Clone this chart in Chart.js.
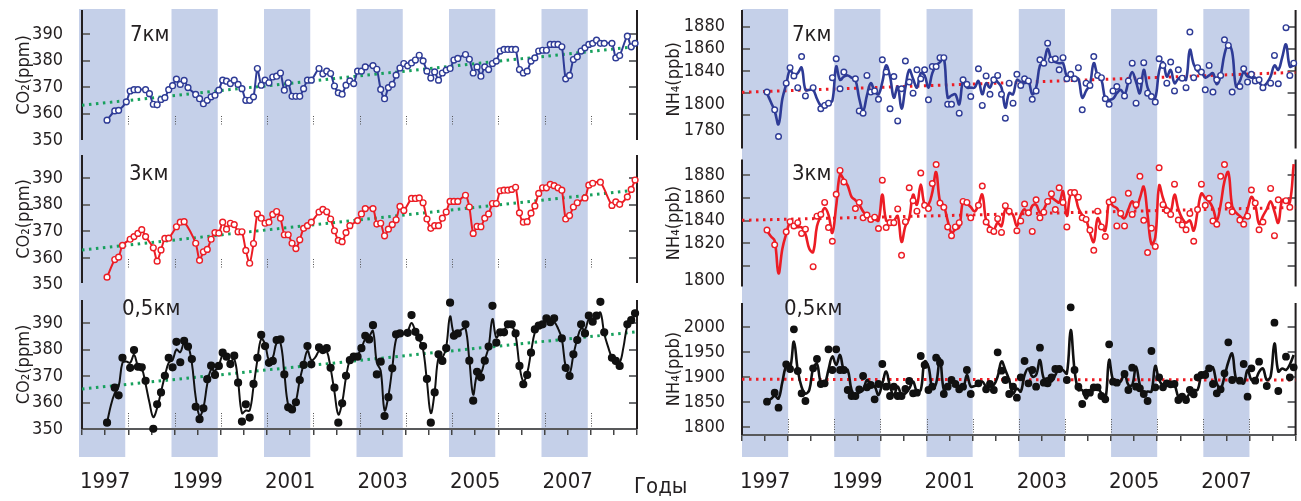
<!DOCTYPE html>
<html>
<head>
<meta charset="utf-8">
<script src="https://cdn.jsdelivr.net/npm/chart.js@4.4.1/dist/chart.umd.min.js"></script>
<style>
  html, body { margin: 0; padding: 0; background: #fff; }
  #fig { position: relative; width: 1301px; height: 501px; overflow: hidden; background: #fff; }
  #fig canvas { position: absolute; }
  .lbl { position: absolute; font-family: "Liberation Sans Narrow", "Arial Narrow", "DejaVu Sans Condensed", sans-serif;
         font-size: 22px; line-height: 1; color: #231f20; white-space: nowrap; }
</style>
</head>
<body>
<div id="fig">
  <canvas id="co2_7" width="660" height="147" style="left:0;top:0"></canvas>
  <canvas id="co2_3" width="660" height="145" style="left:0;top:147px"></canvas>
  <canvas id="co2_05" width="660" height="209" style="left:0;top:292px"></canvas>
  <canvas id="nh4_7" width="641" height="154" style="left:660px;top:0"></canvas>
  <canvas id="nh4_3" width="641" height="138" style="left:660px;top:154px"></canvas>
  <canvas id="nh4_05" width="641" height="209" style="left:660px;top:292px"></canvas>

  <div class="lbl" style="left:130px;top:23px">7км</div>
  <div class="lbl" style="left:129px;top:162px">3км</div>
  <div class="lbl" style="left:122px;top:297px">0,5км</div>
  <div class="lbl" style="left:792px;top:23px">7км</div>
  <div class="lbl" style="left:792px;top:162px">3км</div>
  <div class="lbl" style="left:784px;top:297px">0,5км</div>
  <div class="lbl" style="left:634px;top:475px">Годы</div>
</div>
<script>
const FONT = '"Liberation Sans Narrow", "Arial Narrow", "DejaVu Sans Condensed", sans-serif';
const TEXT = '#231f20';

// monthly values, July 1997 .. December 2008
const startYear = 1997;
const startMonth = 7;

const bandYears = [1997, 1999, 2001, 2003, 2005, 2007];
const yearLabels = [1997, 1999, 2001, 2003, 2005, 2007];
const yearMarks = [1998, 1999, 2000, 2001, 2002, 2003, 2004, 2005, 2006, 2007, 2008];

const co2TickValues = [390, 380, 370, 360, 350];
const co2TickLabels = ['390', '380', '370', '360', '350'];
const co2TickMarks = [390, 380, 370, 360];

const nh4_7TickValues = [1880, 1860, 1840, 1810, 1787];
const nh4_7TickLabels = ['1880', '1860', '1840', '1800', '1780'];
const nh4_3TickValues = [1880, 1860, 1840, 1820, 1786.5];
const nh4_3TickLabels = ['1880', '1860', '1840', '1820', '1800'];
const nh4TickMarks = [1880, 1860, 1840, 1820, 1800];
const nh4_05TickValues = [2000, 1950, 1900, 1850, 1800];
const nh4_05TickLabels = ['2000', '1950', '1900', '1850', '1800'];

// trend lines: value at 1997 and at 2009
const co2Trend7 = [363.1, 385.3];
const co2Trend3 = [363.0, 385.5];
const co2Trend05 = [365.1, 386.7];
const nh4Trend7 = [1820.8, 1838.7];
const nh4Trend3 = [1840.2, 1851.7];
const nh4Trend05 = [1895.4, 1894.0];

const co2_7km = [
  357.5,null,361,361.2,null,364.4,368.5,369,369,null,
  369,367.5,363.5,363.3,365.3,366,369,370.5,373,371,
  372.5,369.8,null,367.2,365.6,363.7,365,366.3,366.9,368.8,
  372.6,372.2,371.3,372.6,371,369.4,365,365,366.3,377,
  370.7,372.6,371.6,373.8,374.1,375.3,368.8,371.6,366.5,366.5,
  366.5,369.4,372.6,372.6,null,377,375,376,375.1,370.4,
  367.8,367.3,370.7,372.3,371.3,376,376,377.6,null,378.1,
  376.7,369.1,365.6,369.8,371,374.5,377.2,378.9,378,379.1,
  380.2,382,379.9,376,373.4,375.7,372.6,375.3,376.4,377,
  380.2,380.8,null,382.3,380.5,375.3,377.6,374.1,377.6,376.6,
  378.9,379.8,383.6,384.2,384.2,384.2,384.2,376.6,375.3,376,
  379.8,381,383.6,383.9,383.9,386.1,386.1,386.1,385.2,373.1,
  374.4,380.4,381.4,383.6,384.8,386.1,386.5,387.7,386.5,386.5,
  null,386.5,381,381.9,null,389.2,385.2,386.5
];

const co2_3km = [
  352.8,null,359.4,360.3,364.7,null,367,368,369.2,370.6,
  368,null,363.8,358.8,363,367.3,367.4,null,371.7,373.4,
  373.6,null,null,365.5,359.1,362.3,363.2,367,369.5,369.3,
  373.4,370.8,373,372.5,369.8,369.8,362.8,358,365.4,376.5,
  374.9,373,373.4,376.3,377.4,374.9,368.7,368.7,365.5,363.5,
  366.8,371.1,372.1,373.4,null,377.2,378.2,377.3,374.6,370.2,
  366.6,366.1,369.5,372.1,null,374,376.5,378.5,null,378.5,
  372.7,373,368.3,370.8,372.5,374.3,379.3,377.8,null,382.3,
  382.3,382.5,380.7,374.6,371.1,372.1,372.1,374.9,377.2,381.2,
  381.2,381.2,null,383.5,379.1,369.2,371.8,371.7,374.9,376.5,
  380.4,380.4,385.2,385.4,385.4,385.7,386.5,376.9,373.4,373.6,
  376.8,379.5,384.2,386.3,386.3,387.6,387.1,386.3,385.4,374.6,
  375.9,379.1,380.7,null,382.5,387.3,388,null,388.4,null,
  null,379.7,381,380.1,null,382.9,385.7,389.2
];

const co2_05kmPoints = [
  352.4,null,365.6,362.7,376.9,null,373.1,379.8,373.5,373.3,
  368.2,null,350.1,359.3,363.8,370.1,376.9,373.3,382.9,375.2,
  383.3,381.1,376.4,358.4,353.7,357.8,368.8,373.9,370.4,373.8,
  378.8,377.3,374.5,377.7,367.5,352.8,359.3,354.3,367,376.9,
  385.5,381.3,375,375.7,383.6,383.8,370.6,358.2,357.4,360.1,
  368.5,374.2,381.3,374.4,null,380.8,379.8,380.5,373.1,365.6,
  352.4,359.7,370.1,376,377.3,377.3,380.5,385.2,383.8,389.2,
  370.6,375.4,354.9,362,372.9,385.7,386.1,null,386.3,393,
  386.7,384.5,381.3,368.9,352.4,363.8,378.2,375.7,380.5,397.7,
  385.2,386.1,null,389.5,375.8,360.7,371.6,369.5,375.8,381.1,
  396.5,382.6,386.5,386.5,389.5,389.5,386.1,373.8,366.9,370.4,
  378.8,387.6,389,389.5,391.8,390.3,391.8,null,384.2,373.1,
  370,378.2,383.6,389.5,386.1,392.8,390.5,392.8,398,386.5,
  null,376.9,375.7,373.8,null,389.5,391.1,393.7
];
const co2_05kmLine = [
  352.4,359,363.5,366,375,375.5,375,378,374,373,
  367,360,354.5,358,364,370,375,376,380,379,
  382.5,381.5,375,362,355,358,367,372.5,372,374,
  378,377,375.5,376.5,368,356,357,357,366,376,
  384,382,376,377,382.5,382.5,371,359,357.5,360.5,
  368.5,374.5,379.5,376,377,379.5,380,379.5,373,364,
  355.5,360,369.5,376,377,378,380.5,384,385,387,
  375,372,357,362.5,373,384,385.5,386,387,390,
  387,384,380,368,356,364,377,377,381,392.5,
  386,386.5,387.5,388,376,363,370.5,371,376,381,
  391.5,384.5,386.5,387.5,389,389,385.5,374,368,371,
  379,386.5,389,390,391,391,390.5,388,384,373.5,
  371,378,384,388,387.5,391.5,391,392,394,386,
  381,377,375.5,375,381,389,391,393
];

const nh4_7kmPoints = [
  1821,null,1805,1781,null,1829,1843,1835.5,1825,1853,
  1817.5,null,1825,null,1806,1809,1811,1834,1851,1824,
  1839,null,null,1833,1804,1802,1836,1821,1822,1814.5,
  1850,1839,1806,1835,1795,1824,1849,1830,1820,1841,
  1833,1841,1814,1844,1844,1852,1852,1810,1810,null,
  1802,1832,1828,1817,null,1842,1809,1835.5,1819,1832,
  1836,1819,1797.5,1829,1811,1837,1827,1833,1831,1814.5,
  1822,1850,1847,1865,1850,1851,1841,1852,1833,1837,
  1833,1843,1805,1829,1827,1853,1836,1834,1815,1810,
  1822,1826,null,1817.5,1831,1847,1811,1831,1847.5,1820,
  1817,1812,1851,1845,1829,1848,1822,1841,1833.5,1825,
  1875,1834,1843,1839,1823,1845,1821,1832,1836,1868,
  1863,1821,null,1826,1842,1830,1837,1831,1832,1825,
  null,1829,1854,1828.5,null,1879,1836,1847
];
const nh4_7kmLine = [
  1820,1812,1804,1792,1815,1828,1841,1836,1838,1843,
  1823,1823,1823,1815,1809,1810,1812,1813,1844,1832,
  1835,1836,1834,1832,1815,1804,1818,1829,1822,1819,
  1830,1845,1835,1816,1826,1806,1825,1841,1833,1825,
  1838,1836,1825,1838,1845,1848,1852,1816,1818,1819,
  1810,1831,1825,1825,1825,1831,1819,1829,1825,1833,
  1830,1825,1807,1820,1819,1832,1830,1829,1831,1819,
  1825,1845,1848,1860,1850,1848,1847,1847,1835,1835,
  1834,1833,1816,1822,1828,1847,1836,1832,1815,1814,
  1815,1820,1823,1819,1830,1839,1830,1820,1841,1825,
  1818,1816,1840,1848,1835,1841,1829,1833,1835,1832,
  1859,1846,1840,1839,1834,1836,1838,1828,1836,1855,
  1864,1857,1826,1831,1839,1835,1834,1834,1830,1826,
  1829,1835,1845,1841,1852,1864,1844,1845
];

const nh4_3kmPoints = [
  1831.5,null,1818.4,null,null,1830,1839,1835.2,1838.1,1828.5,
  1832.3,null,1799,1843.9,1845.4,1856.1,1833.7,1821.6,1863.3,1884.5,
  1874.3,null,null,1850.6,1856.1,1842.4,1844.8,1841,1843,1832.9,
  1875.8,1833.7,1838.1,1838.1,1850.3,1809.1,1839,1869.1,1857.6,1848.3,
  1882.2,1853.5,1850.6,1872.9,1889.7,1855.5,1851.7,1834.3,1826.5,1834.3,
  1838.1,1857,1856.1,1842.4,null,1853.5,1870.6,1838.7,1831.7,1830.3,
  1841.6,1829.4,1853.2,1848.3,null,1830.9,1839.6,1854.6,1846.8,1830.3,
  1858.4,1842.4,1847.4,1857,1863.7,1849.7,1869.1,1856.1,1834.3,1864.8,
  1864.8,1860.7,1842.4,1841,1831.5,1813.5,1848.3,1834.3,1825.7,1856.4,
  1858.4,1835.2,1846.3,1835.2,1864.2,1845.4,1854.1,1879.3,1840.2,1811.5,
  1833.2,1817,1886.8,1854.1,1848.9,1845.4,1872.3,1840.4,1836.1,1831.7,
  1846.3,1821.6,1849.7,1872.3,1853.5,1859.8,1839.6,1836.7,1879.3,1889.7,
  1853.5,1847.7,null,1840.4,1836.7,1843.9,1867.1,1855.5,1831.7,1838.7,
  null,1868.5,1826.5,1858.4,null,1857.6,1851.7,null
];
const nh4_3kmLine = [
  1831,1826,1822,1793,1815,1828,1838,1835,1834,1834,
  1828,1815,1812,1835,1844,1851,1845,1829,1853,1881,
  1876,1871,1861,1858,1854,1848,1844,1842,1841,1840,
  1863,1840,1840,1840,1844,1821,1835,1842,1863,1854,
  1872,1854,1854,1865,1883,1857,1853,1840,1829,1832,
  1834,1857,1855,1852,1848,1854,1863,1840,1834,1832,
  1838,1835,1850,1848,1845,1835,1845,1850,1845,1853,
  1854,1847,1850,1857,1860,1858,1856,1866,1844,1864,
  1863,1851,1845,1841,1829,1821,1842,1835,1831,1857,
  1853,1851,1845,1842,1850,1857,1851,1860,1870,1845,
  1819,1825,1871,1860,1851,1848,1863,1850,1842,1838,
  1840,1831,1848,1864,1860,1857,1851,1840,1854,1875,
  1883,1853,1847,1844,1842,1850,1861,1854,1837,1844,
  1850,1857,1848,1838,1858,1857,1856,1890
];

const nh4_05kmPoints = [
  1850.6,null,1868.6,1838.6,null,1925.4,1916,1995.4,1912,1867.4,
  1852,null,1917.4,1936,1886,1887.4,1955.4,1914,1955.4,1914,
  1914,1874,1862,1862,1875.4,1902,1879.4,1884,1855.4,1886,
  1926,1880.6,1862,1880.6,1862,1862,1876,1892,1867.4,1868.6,
  1942,1924,1874,1880.6,1938.6,1928.6,1866,1880.6,1894,1886,
  1875.4,1880.6,1914,1866,null,1887.4,null,1875.4,1886,1874,
  1949.4,1912.6,1894,1866,1880.6,1858.6,1899.4,1932,1887.4,1914,
  1880.6,1958.6,1888.6,1887.4,1899.4,1916,1916,null,1894,2039.4,
  1914,1880.6,1846,1868.6,1868.6,1879.4,1879.4,1862,1855.4,1965.4,
  1890.6,1888.6,null,1906,1874,1918.6,1880.6,1877.4,1866,1852,
  1952,1879.4,1899.4,1879.4,1887.4,1885.4,1886,1854,1860.6,1854,
  1874,1865.4,1899.4,1904,1904,1917.4,1886,1867.4,1875.4,1907.4,
  1969.4,1894,null,1892.6,1926,1860.6,1917.4,1892.6,1930.6,null,
  1882,null,2008.6,1872,null,1940.6,1899.4,1919.4
];
const nh4_05kmLine = [
  1851,1856,1862,1857,1890,1921,1917,1971,1914,1880,
  1867,1874,1917,1926,1889,1887,1915,1941,1924,1944,
  1914,1914,1874,1864,1869,1874,1894,1884,1881,1864,
  1887,1911,1881,1864,1881,1864,1867,1877,1891,1871,
  1874,1931,1921,1877,1887,1937,1874,1881,1894,1886,
  1882,1877,1904,1881,1882,1884,1891,1881,1882,1884,
  1901,1931,1914,1894,1867,1877,1871,1904,1917,1901,
  1904,1934,1897,1897,1891,1904,1917,1914,1907,1994,
  1914,1874,1874,1857,1871,1874,1877,1867,1854,1934,
  1894,1891,1891,1907,1884,1884,1921,1884,1867,1871,
  1871,1922,1894,1884,1887,1886,1884,1861,1860,1859,
  1867,1874,1874,1904,1911,1915,1919,1887,1877,1901,
  1930,1947,1897,1894,1887,1914,1894,1894,1910,1917,
  1894,1901,1967,1911,1917,1914,1925,1944
];

const BLUE = '#2e3b96';
const RED = '#ec1c24';
const BLACK = '#111111';
const GREEN = '#17a05d';
const BAND = '#c5d0e9';

function monthTime(i) {
  return startYear + (startMonth - 1 + i + 0.5) / 12;
}
function toPoints(values) {
  return values.map((v, i) => ({ x: monthTime(i), y: v }));
}

const bandsPlugin = {
  id: 'bands',
  beforeDraw(chart, args, o) {
    const ctx = chart.ctx, x = chart.scales.x;
    ctx.save();
    ctx.fillStyle = BAND;
    bandYears.forEach(b => {
      const x0 = x.getPixelForValue(b) + o.shift;
      const x1 = x.getPixelForValue(b + 1) + o.shift;
      ctx.fillRect(x0, o.top, x1 - x0, o.bottom - o.top);
    });
    ctx.restore();
  }
};

const framePlugin = {
  id: 'frame',
  beforeDatasetsDraw(chart, args, o) {
    const ctx = chart.ctx, a = chart.chartArea, x = chart.scales.x, y = chart.scales.y;
    ctx.save();
    ctx.lineCap = 'butt';
    if (o.yearMarks) {
      ctx.strokeStyle = '#555';
      ctx.lineWidth = 1;
      ctx.setLineDash([1, 1.5]);
      yearMarks.forEach(yr => {
        const px = Math.round(x.getPixelForValue(yr)) + 0.5;
        ctx.beginPath();
        ctx.moveTo(px, a.bottom - o.yearMarks[0]);
        ctx.lineTo(px, a.bottom - o.yearMarks[1]);
        ctx.stroke();
      });
      ctx.setLineDash([]);
    }
    ctx.strokeStyle = '#6d6e71';
    ctx.lineWidth = 2;
    o.marks.forEach(v => {
      const py = Math.round(y.getPixelForValue(v));
      ctx.beginPath();
      ctx.moveTo(a.left, py); ctx.lineTo(a.left + 8, py);
      ctx.moveTo(a.right - 8, py); ctx.lineTo(a.right, py);
      ctx.stroke();
    });
    ctx.strokeStyle = '#231f20';
    ctx.lineWidth = 2;
    ctx.beginPath();
    ctx.moveTo(a.left, a.top); ctx.lineTo(a.left, a.bottom);
    ctx.moveTo(a.right, a.top); ctx.lineTo(a.right, a.bottom);
    ctx.stroke();
    ctx.restore();
  }
};

function panel(id, p) {
  const datasets = [{
    data: [{ x: 1997, y: p.trend[0] }, { x: 2009, y: p.trend[1] }],
    borderColor: p.trendColor, borderWidth: 3, borderDash: [2.5, 4.5], borderCapStyle: 'butt',
    pointRadius: 0, order: 3
  }];
  if (p.line) {
    datasets.push({
      data: toPoints(p.line), borderColor: p.color, borderWidth: p.lineWidth || 2.6, tension: 0.4,
      spanGaps: true, pointRadius: 0, order: 2
    });
  }
  datasets.push({
    data: toPoints(p.points), showLine: !p.line, spanGaps: true, tension: 0.25,
    borderColor: p.color, borderWidth: 2,
    pointRadius: p.radius, pointBorderWidth: 1.4, pointBorderColor: p.color,
    pointBackgroundColor: p.fill, clip: false, order: 1
  });

  const x = {
    type: 'linear', min: 1997, max: 2009, display: !!p.xHeight,
    afterFit: s => { s.height = p.xHeight || 0; s.paddingLeft = 0; s.paddingRight = 0; },
    grid: { drawOnChartArea: false, drawTicks: true, tickLength: 6, color: '#444', lineWidth: 1.5 },
    border: { display: true, color: '#58595b', width: 2 },
    ticks: {
      stepSize: 0.5, autoSkip: false, maxRotation: 0, padding: p.xPad || 0,
      color: TEXT, font: { family: FONT, size: 22 },
      callback: v => yearLabels.includes(v - 0.5) ? String(v - 0.5) : ''
    }
  };

  new Chart(document.getElementById(id), {
    type: 'line',
    data: { datasets },
    options: {
      responsive: false, animation: false, devicePixelRatio: 1,
      layout: { padding: p.pad },
      plugins: {
        legend: { display: false }, tooltip: { enabled: false },
        bands: { shift: p.bandShift, top: p.band[0], bottom: p.band[1] },
        frame: { marks: p.marks, yearMarks: p.yearMarks }
      },
      scales: {
        x,
        y: {
          min: p.yMin, max: p.yMax,
          afterFit: s => { s.width = 82; s.paddingTop = 0; s.paddingBottom = 0; },
          afterBuildTicks: s => { s.ticks = p.tickValues.map(v => ({ value: v })); },
          grid: { display: false }, border: { display: false },
          ticks: {
            autoSkip: false, padding: p.labelPad, color: TEXT, font: { family: FONT, size: 18 },
            callback: (v, i) => p.tickLabels[i]
          },
          title: {
            display: true, text: p.title, color: TEXT, font: { family: FONT, size: 18 },
            padding: { top: p.titlePad, bottom: 0 }
          }
        }
      }
    },
    plugins: [bandsPlugin, framePlugin]
  });
}

const leftCommon = {
  title: 'CO₂(ppm)', titlePad: 14, labelPad: 11, bandShift: -3,
  tickValues: co2TickValues, tickLabels: co2TickLabels, marks: co2TickMarks, trendColor: GREEN
};
const rightCommon = {
  title: 'NH₄(ppb)', titlePad: 4, labelPad: 9, bandShift: 0, marks: nh4TickMarks, trendColor: RED
};

panel('co2_7', Object.assign({}, leftCommon, {
  pad: { top: 10, bottom: 7, left: 0, right: 23 }, yMin: 350, yMax: 399.1, band: [9, 147],
  points: co2_7km, trend: co2Trend7, color: BLUE, fill: '#fff', radius: 2.9, yearMarks: [24, 14]
}));
panel('co2_3', Object.assign({}, leftCommon, {
  pad: { top: 8, bottom: 9, left: 0, right: 23 }, yMin: 350.6, yMax: 398.6, band: [0, 145],
  points: co2_3km, trend: co2Trend3, color: RED, fill: '#fff', radius: 2.9, yearMarks: [24, 14]
}));
panel('co2_05', Object.assign({}, leftCommon, {
  pad: { top: 8, bottom: 0, left: 0, right: 23 }, yMin: 350, yMax: 398.7, band: [0, 165],
  xHeight: 72, xPad: 34,
  points: co2_05kmPoints, line: co2_05kmLine, lineWidth: 2, trend: co2Trend05,
  color: BLACK, fill: BLACK, radius: 3.4, yearMarks: [16, 2]
}));
panel('nh4_7', Object.assign({}, rightCommon, {
  pad: { top: 10, bottom: 2, left: 0, right: 4 }, yMin: 1770.1, yMax: 1894.9, band: [9, 154],
  tickValues: nh4_7TickValues, tickLabels: nh4_7TickLabels,
  points: nh4_7kmPoints, line: nh4_7kmLine, trend: nh4Trend7, color: BLUE, fill: '#fff', radius: 2.8
}));
panel('nh4_3', Object.assign({}, rightCommon, {
  pad: { top: 3, bottom: 5, left: 0, right: 4 }, yMin: 1781.3, yMax: 1894.3, band: [0, 138],
  tickValues: nh4_3TickValues, tickLabels: nh4_3TickLabels,
  points: nh4_3kmPoints, line: nh4_3kmLine, trend: nh4Trend3, color: RED, fill: '#fff', radius: 2.8
}));
panel('nh4_05', Object.assign({}, rightCommon, {
  pad: { top: 11, bottom: 0, left: 0, right: 4 }, yMin: 1784, yMax: 2048, band: [0, 165],
  xHeight: 66, xPad: 28, marks: nh4_05TickValues,
  tickValues: nh4_05TickValues, tickLabels: nh4_05TickLabels,
  points: nh4_05kmPoints, line: nh4_05kmLine, trend: nh4Trend05, color: BLACK, fill: BLACK, radius: 3.2,
  yearMarks: [16, 2]
}));
</script>
</body>
</html>
